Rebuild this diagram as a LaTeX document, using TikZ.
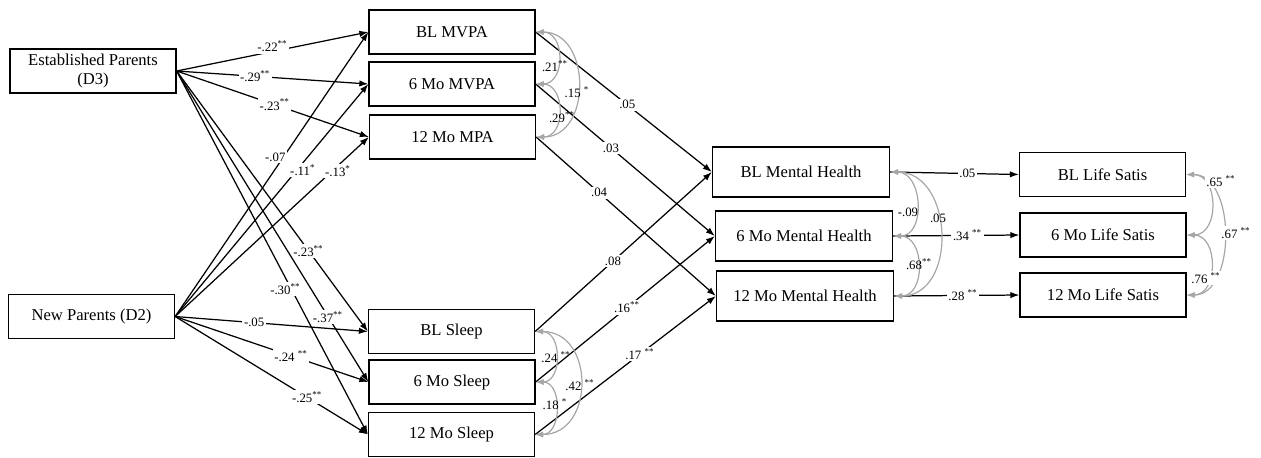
\documentclass[tikz,border=0pt]{standalone}
\usepackage{fontspec}
\setmainfont{Liberation Serif}
\usetikzlibrary{arrows.meta}
\newcommand{\sg}[1]{\textsuperscript{#1}}

\begin{document}
\begin{tikzpicture}[x=0.5pt, y=-0.5pt,
  box/.style={draw, line width=0.65pt, minimum width=83pt, minimum height=22pt, inner sep=1pt, align=center, font=\fontsize{8.3}{9.6}\selectfont},
  mhbox/.style={box, minimum width=88.5pt, minimum height=25pt},
  reg/.style={line width=0.62pt, -{Latex[length=4.5pt, width=3.2pt]}},
  cov/.style={line width=0.6pt, gray!70, {Latex[length=4pt, width=3pt]}-{Latex[length=4pt, width=3pt]}},
  coef/.style={fill=white, inner sep=0.8pt, font=\fontsize{6.4}{7}\selectfont},
  covlab/.style={inner sep=0.5pt, font=\fontsize{6.4}{7}\selectfont}]
  \useasboundingbox (0,0) rectangle (1261,457);
  \node[box] (d3) at (93,71) {Established Parents\\(D3)};
  \node[box] (d2) at (91.5,316.5) {New Parents (D2)};
  \node[box] (blmvpa) at (452,32) {BL MVPA};
  \node[box] (mo6mvpa) at (452,84) {6 Mo MVPA};
  \node[box] (mo12mpa) at (452.5,137) {12 Mo MPA};
  \node[box] (blsleep) at (451.5,331.5) {BL Sleep};
  \node[box] (mo6sleep) at (452,382) {6 Mo Sleep};
  \node[box] (mo12sleep) at (451.5,434.5) {12 Mo Sleep};
  \node[mhbox] (blmh) at (801,172) {BL Mental Health};
  \node[mhbox] (mo6mh) at (804,236) {6 Mo Mental Health};
  \node[mhbox] (mo12mh) at (805,296) {12 Mo Mental Health};
  \node[box] (blls) at (1102.5,174.5) {BL Life Satis};
  \node[box] (mo6ls) at (1103,235) {6 Mo Life Satis};
  \node[box] (mo12ls) at (1103,295) {12 Mo Life Satis};
  \draw[reg] (d3.east) -- (blmvpa.west) node[coef, pos=0.5, yshift=2.5pt] (e1) {-.22\sg{**}};
  \draw[reg] (d3.east) -- (mo6mvpa.west) node[coef, pos=0.41] (e2) {-.29\sg{**}};
  \draw[reg] (d3.east) -- (mo12mpa.west) node[coef, pos=0.51] (e3) {-.23\sg{**}};
  \draw[reg] (d3.east) -- (blsleep.west) node[coef, pos=0.69] (e4) {-.23\sg{**}};
  \draw[reg] (d3.east) -- (mo6sleep.west) node[coef, pos=0.79] (e5) {-.37\sg{**}};
  \draw[reg] (d3.east) -- (mo12sleep.west) node[coef, pos=0.6, xshift=-3pt] (e6) {-.30\sg{**}};
  \draw[reg] (d2.east) -- (blmvpa.west) node[coef, pos=0.56, xshift=-4pt] (e7) {-.07};
  \draw[reg] (d2.east) -- (mo6mvpa.west) node[coef, pos=0.63, xshift=3pt] (e8) {-.11\sg{*}};
  \draw[reg] (d2.east) -- (mo12mpa.west) node[coef, pos=0.81, xshift=3pt] (e9) {-.13\sg{*}};
  \draw[reg] (d2.east) -- (blsleep.west) node[coef, pos=0.41] (e10) {-.05};
  \draw[reg] (d2.east) -- (mo6sleep.west) node[coef, pos=0.6] (e11) {-.24 \sg{**}};
  \draw[reg] (d2.east) -- (mo12sleep.west) node[coef, pos=0.685] (e12) {-.25\sg{**}};
  \draw[reg] (blmvpa.east) -- (blmh.west) node[coef, pos=0.52] (e13) {.05};
  \draw[reg] (mo6mvpa.east) -- (mo6mh.west) node[coef, pos=0.42] (e14) {.03};
  \draw[reg] (mo12mpa.east) -- (mo12mh.west) node[coef, pos=0.35] (e15) {.04};
  \draw[reg] (blsleep.east) -- (blmh.west) node[coef, pos=0.44] (e16) {.08};
  \draw[reg] (mo6sleep.east) -- (mo6mh.west) node[coef, pos=0.51] (e17) {.16\sg{**}};
  \draw[reg] (mo12sleep.east) -- (mo12mh.west) node[coef, pos=0.58] (e18) {.17 \sg{**}};
  \draw[reg] (blmh.east) -- (blls.west) node[coef, pos=0.6] (e19) {.05};
  \draw[reg] (mo6mh.east) -- (mo6ls.west) node[coef, pos=0.59] (e20) {.34 \sg{**}};
  \draw[reg] (mo12mh.east) -- (mo12ls.west) node[coef, pos=0.55] (e21) {.28 \sg{**}};
  \draw[cov] (blmvpa.east) .. controls +(30,0) and +(30,0) .. (mo6mvpa.east);
  \draw[cov] (blmvpa.east) .. controls +(56,0) and +(56,0) .. (mo12mpa.east);
  \draw[cov] (mo6mvpa.east) .. controls +(30,0) and +(30,0) .. (mo12mpa.east);
  \node[covlab] (c1) at (555,66) {.21\sg{**}};
  \node[covlab] (c2) at (577,92) {.15 \sg{*}};
  \node[covlab] (c3) at (562,117) {.29\sg{**}};
  \draw[cov] (blsleep.east) .. controls +(27,0) and +(27,0) .. (mo6sleep.east);
  \draw[cov] (blsleep.east) .. controls +(60,0) and +(60,0) .. (mo12sleep.east);
  \draw[cov] (mo6sleep.east) .. controls +(27,0) and +(27,0) .. (mo12sleep.east);
  \node[covlab] (c4) at (556,357) {.24 \sg{**}};
  \node[covlab] (c5) at (580,385) {.42 \sg{**}};
  \node[covlab] (c6) at (555,404) {.18 \sg{*}};
  \draw[cov] (blmh.east) .. controls +(33,0) and +(33,0) .. (mo6mh.east);
  \draw[cov] (blmh.east) .. controls +(64,0) and +(64,0) .. (mo12mh.east);
  \draw[cov] (mo6mh.east) .. controls +(32,0) and +(32,0) .. (mo12mh.east);
  \node[covlab] (c7) at (908,212) {-.09};
  \node[covlab] (c8) at (938,218) {.05};
  \node[covlab] (c9) at (919,264) {.68\sg{**}};
  \draw[cov] (blls.east) .. controls +(33,0) and +(33,0) .. (mo6ls.east);
  \draw[cov] (blls.east) .. controls +(50,0) and +(50,0) .. (mo12ls.east);
  \draw[cov] (mo6ls.east) .. controls +(32,0) and +(32,0) .. (mo12ls.east);
  \node[covlab, fill=white] (c10) at (1221,181) {.65 \sg{**}};
  \node[covlab, fill=white] (c11) at (1236,233) {.67 \sg{**}};
  \node[covlab, fill=white] (c12) at (1206,278) {.76 \sg{**}};
\end{tikzpicture}
\end{document}
